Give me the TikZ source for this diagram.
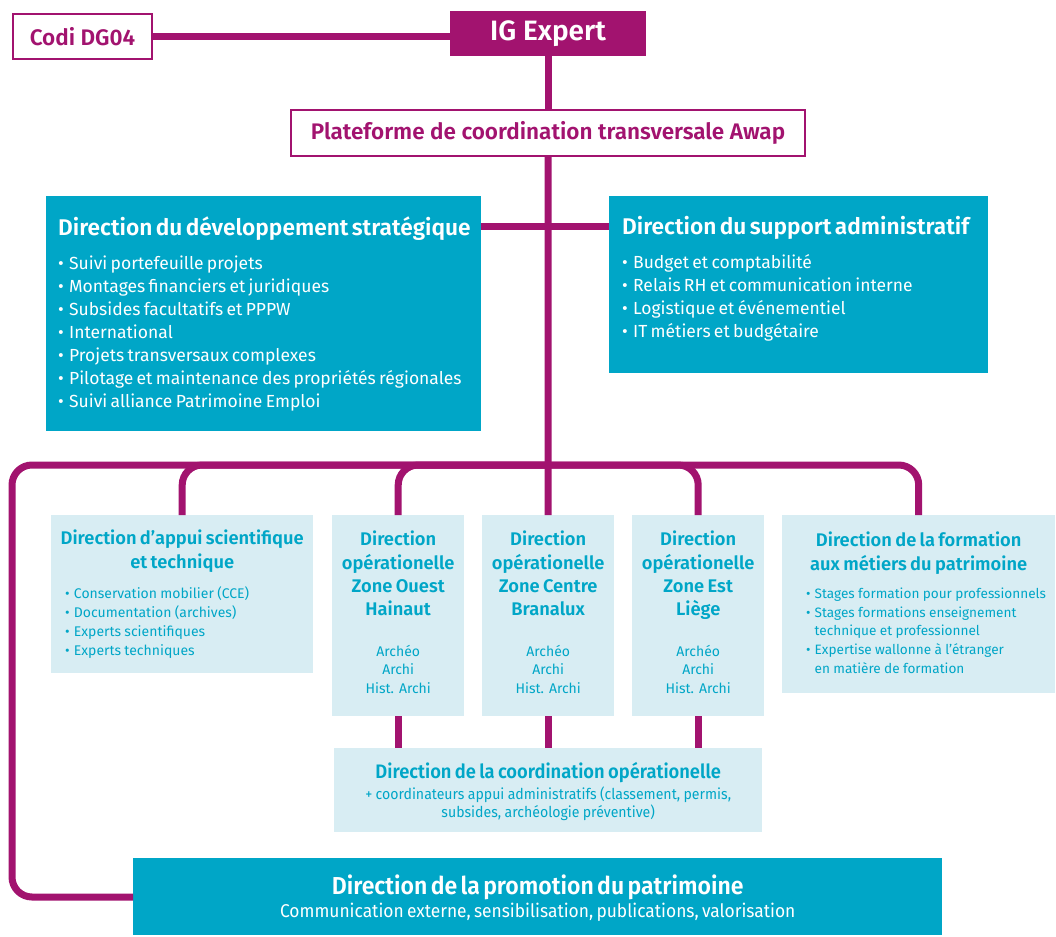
\documentclass[tikz,border=0pt]{standalone}
\usepackage{fontspec}
\setmainfont{Fira Sans}[BoldFont={Fira Sans SemiBold}]
\newfontfamily\narrowfont{Fira Sans}[FakeStretch=0.94, BoldFont={Fira Sans SemiBold}]
\usetikzlibrary{positioning}
\definecolor{awapmag}{HTML}{A2136F}
\definecolor{awapteal}{HTML}{00A6C7}
\definecolor{awaplight}{HTML}{D8EDF3}
\newcommand{\puce}{\textbullet\hspace{0.3em}}
\newcommand{\bigtitle}{\fontsize{22.7}{26}\selectfont\bfseries}
\newcommand{\bigitem}{\fontsize{17.5}{23}\selectfont}
\newcommand{\smalltitle}{\fontsize{18.3}{24}\selectfont\bfseries}
\newcommand{\zonetitle}{\fontsize{18.3}{23.3}\selectfont\bfseries}
\newcommand{\smallitem}{\fontsize{14}{19}\selectfont}

\begin{document}
\begin{tikzpicture}[
        x=1pt, y=-1pt,
        link/.style={draw=awapmag, line width=7pt},
        bus/.style={link, rounded corners=20pt},
        topbox/.style={fill=awapmag, text=white, inner sep=0pt, font=\fontsize{28}{30}\selectfont\bfseries},
        framebox/.style={draw=awapmag, line width=2pt, fill=white, text=awapmag, inner sep=0pt},
        mainbox/.style={fill=awapteal, text=white, align=left, anchor=north west, inner ysep=0pt},
        subbox/.style={fill=awaplight, text=awapteal, align=left, anchor=north west, inner ysep=0pt}
    ]
        \useasboundingbox (0,0) rectangle (1056,936);

        % Top of the chart
        \node[topbox, minimum width=196, minimum height=45] (ig) at (548,33.5) {IG Expert};
        \node[framebox, minimum width=139, minimum height=45, font=\fontsize{22.5}{24}\selectfont\bfseries] (codi) at (82.5,36.5) {Codi DG04};
        \node[framebox, minimum width=514, minimum height=46, font=\fontsize{22.5}{24}\selectfont\bfseries] (plateforme) at (548,133) {Plateforme de coordination transversale Awap};

        % Directions below the platform
        \node[mainbox, minimum width=435, minimum height=235, text width=411, inner xsep=12] (devstrat) at (46,196) {%
            {\bigtitle \mbox{Direction du développement stratégique}\par}\vspace{11pt}
            {\bigitem \puce Suivi portefeuille projets\\
            \puce Montages financiers et juridiques\\
            \puce Subsides facultatifs et PPPW\\
            \puce International\\
            \puce Projets transversaux complexes\\
            \puce Pilotage et maintenance des propriétés régionales\\
            \puce Suivi alliance Patrimoine Emploi\par}};
        \node[mainbox, minimum width=379, minimum height=177, text width=353, inner xsep=13] (support) at (609,196) {%
            {\bigtitle \mbox{Direction du support administratif}\par}\vspace{11pt}
            {\bigitem \puce Budget et comptabilité\\
            \puce Relais RH et communication interne\\
            \puce Logistique et événementiel\\
            \puce IT métiers et budgétaire\par}\vspace{11pt}};

        % Second row
        \node[subbox, minimum width=262, minimum height=158, text width=234, inner xsep=14] (appui) at (51,515) {%
            {\centering\smalltitle \makebox[0pt]{Direction d’appui scientifique}\\ \makebox[0pt]{et technique}\par}\vspace{11pt}
            {\smallitem \puce Conservation mobilier (CCE)\\
            \puce Documentation (archives)\\
            \puce Experts scientifiques\\
            \puce Experts techniques\par}};
        \node[subbox, minimum width=132, minimum height=201, text width=132, inner xsep=0, align=center] (ouest) at (332,515) {%
            {\zonetitle Direction\\ opérationelle\\ Zone Ouest\\ Hainaut\par}\vspace{22pt}
            {\fontsize{14}{18.5}\selectfont Archéo\\ Archi\\ Hist. Archi\par}\vspace{7pt}};
        \node[subbox, minimum width=132, minimum height=201, text width=132, inner xsep=0, align=center] (centre) at (482,515) {%
            {\zonetitle Direction\\ opérationelle\\ Zone Centre\\ Branalux\par}\vspace{22pt}
            {\fontsize{14}{18.5}\selectfont Archéo\\ Archi\\ Hist. Archi\par}\vspace{7pt}};
        \node[subbox, minimum width=132, minimum height=201, text width=132, inner xsep=0, align=center] (est) at (632,515) {%
            {\zonetitle Direction\\ opérationelle\\ Zone Est\\ Liège\par}\vspace{22pt}
            {\fontsize{14}{18.5}\selectfont Archéo\\ Archi\\ Hist. Archi\par}\vspace{7pt}};
        \node[subbox, minimum width=273, minimum height=178, text width=225, inner xsep=24] (formation) at (782,515) {%
            {\centering\smalltitle \makebox[0pt]{Direction de la formation}\\ \makebox[0pt]{aux métiers du patrimoine}\par}\vspace{9pt}
            {\fontsize{13.6}{18.75}\selectfont \mbox{\puce Stages formation pour professionnels}\\
            \puce Stages formations enseignement\\
            \phantom{\puce}technique et professionnel\\
            \puce Expertise wallonne à l’étranger\\
            \phantom{\puce}en matière de formation\par}\vspace{3pt}};

        % Bottom boxes
        \node[subbox, minimum width=428, minimum height=84, text width=428, inner xsep=0, align=center] (coord) at (334,748) {%
            {\narrowfont\fontsize{19.5}{23}\selectfont\bfseries \rule{0pt}{19pt}Direction de la coordination opérationelle\par}\vspace{3pt}
            {\narrowfont\fontsize{15}{18}\selectfont + coordinateurs appui administratifs (classement, permis,\\ subsides, archéologie préventive)\par}};
        \node[mainbox, minimum width=809, minimum height=77, text width=809, inner xsep=0, align=center] (promotion) at (133,858) {%
            {\narrowfont\fontsize{24.5}{26}\selectfont\bfseries \rule{0pt}{23pt}Direction de la promotion du patrimoine\par}\vspace{1pt}
            {\narrowfont\fontsize{18.5}{22}\selectfont Communication externe, sensibilisation, publications, valorisation\par}};

        % Connectors
        \coordinate (dirbar) at (548,226);
        \coordinate (hub) at (548,465);
        \coordinate (bend) at (12,897);
        \draw[link] (codi) -- (codi -| ig.west);
        \draw[link] (ig) -- (plateforme);
        \draw[link] (plateforme) -- (centre);
        \draw[link] (devstrat.east |- dirbar) -- (support.west |- dirbar);
        \draw[bus] (hub) -| (bend) -- (promotion.west |- bend);
        \draw[bus] (hub) -| (appui.north);
        \draw[bus] (hub) -| (ouest.north);
        \draw[bus] (hub) -| (est.north);
        \draw[bus] (hub) -| (formation.north);
        \draw[link] (ouest.south) -- (ouest.south |- coord.north);
        \draw[link] (centre.south) -- (centre.south |- coord.north);
        \draw[link] (est.south) -- (est.south |- coord.north);
    \end{tikzpicture}
\end{document}
